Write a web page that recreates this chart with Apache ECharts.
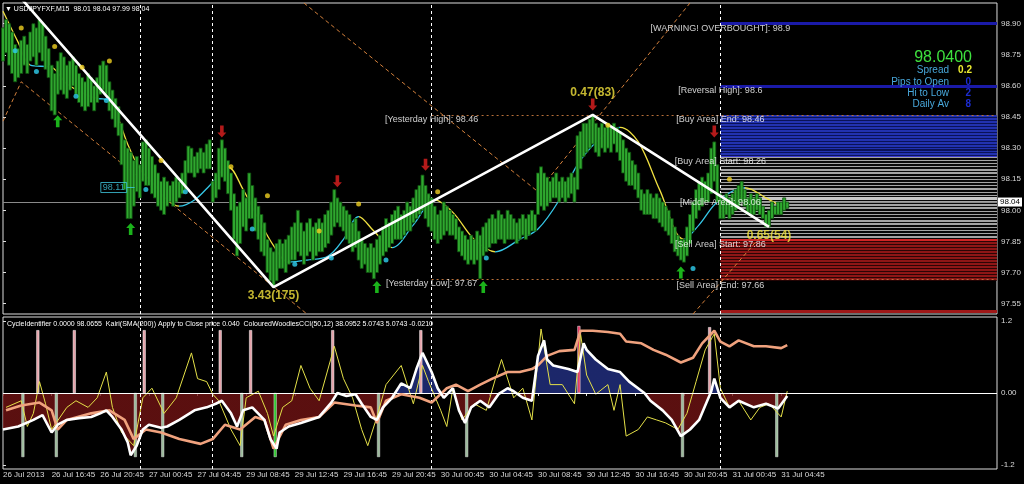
<!DOCTYPE html>
<html><head><meta charset="utf-8"><title>USDJPYFXF M15</title>
<script src="https://cdn.jsdelivr.net/npm/echarts@6.0.0/dist/echarts.min.js"></script>
<style>html,body{margin:0;padding:0;background:#000;overflow:hidden}#c{width:1024px;height:484px}</style>
</head><body><div id="c"></div>
<script>
// ---------------- DATA ----------------
const timeTickIdx = [0,16,32,48,64,80,96,112,128,144,160,176,192,208,224,240,256];
const timeLabels = ['26 Jul 2013','26 Jul 16:45','26 Jul 20:45','27 Jul 00:45','27 Jul 04:45','29 Jul 08:45','29 Jul 12:45','29 Jul 16:45','29 Jul 20:45','30 Jul 00:45','30 Jul 04:45','30 Jul 08:45','30 Jul 12:45','30 Jul 16:45','30 Jul 20:45','31 Jul 00:45','31 Jul 04:45'];
const priceTicks = [97.55,97.70,97.85,98.00,98.15,98.30,98.45,98.60,98.75,98.90];
const oscTicks = [-1.2,0,1.2];
const slotCount = 327;

const barHigh = [
98.88,98.92,98.90,98.86,98.80,98.78,98.82,98.84,98.80,98.86,98.90,98.88,98.92,98.90,98.84,98.78,
98.70,98.66,98.72,98.76,98.74,98.70,98.72,98.74,98.70,98.66,98.64,98.62,98.66,98.64,98.60,98.64,
98.70,98.72,98.70,98.62,98.58,98.54,98.50,98.42,98.34,98.30,98.28,98.24,98.26,98.22,98.33,98.34,
98.30,98.26,98.22,98.18,98.14,98.16,98.14,98.12,98.14,98.16,98.14,98.18,98.24,98.31,98.30,98.26,
98.28,98.30,98.28,98.32,98.34,98.14,98.18,98.30,98.34,98.30,98.24,98.18,98.08,98.02,98.04,98.10,
98.06,98.18,98.12,98.06,98.02,97.98,97.94,97.86,97.82,97.80,97.84,97.86,97.84,97.86,97.88,97.92,
97.94,98.00,97.94,97.90,97.94,97.96,97.92,97.94,97.96,97.94,97.98,98.00,98.04,98.10,98.06,98.04,
98.02,98.00,97.98,97.94,97.96,97.90,97.86,97.84,97.82,97.84,97.82,97.86,97.88,97.92,97.96,97.94,
97.98,98.00,98.02,97.98,98.00,98.04,98.02,98.06,98.10,98.12,98.17,98.12,98.08,98.06,98.02,97.98,
98.00,98.04,98.02,98.00,97.98,97.96,97.92,97.90,97.88,97.86,97.88,97.86,97.90,97.88,97.92,97.94,
97.96,97.98,97.96,98.00,97.98,97.96,98.00,97.98,97.96,97.94,97.96,97.98,97.96,97.98,98.00,97.98,
98.18,98.21,98.18,98.16,98.14,98.16,98.18,98.14,98.16,98.14,98.16,98.18,98.16,98.36,98.38,98.42,
98.42,98.44,98.46,98.42,98.40,98.42,98.40,98.42,98.40,98.42,98.40,98.38,98.34,98.30,98.28,98.24,
98.22,98.18,98.10,98.08,98.10,98.08,98.06,98.08,98.06,98.04,98.02,98.00,97.96,97.92,97.88,97.86,
97.86,97.92,97.98,98.04,98.10,98.14,98.16,98.14,98.18,98.30,98.33,98.22,98.08,98.06,98.08,98.06,
98.08,98.10,98.12,98.14,98.10,98.06,98.08,98.06,98.08,98.06,98.02,97.98,98.00,98.04,98.02,98.04,98.04,98.06,98.04];
const barLow = [
98.72,98.76,98.70,98.66,98.62,98.64,98.66,98.70,98.66,98.72,98.74,98.70,98.76,98.72,98.68,98.64,
98.48,98.46,98.56,98.58,98.56,98.54,98.58,98.60,98.56,98.52,98.50,98.48,98.50,98.52,98.48,98.52,
98.56,98.58,98.56,98.48,98.44,98.40,98.36,98.22,98.10,97.96,97.96,98.02,98.09,98.06,98.14,98.12,
98.12,98.08,98.06,98.02,98.00,97.98,98.02,98.04,98.02,98.04,98.06,98.08,98.10,98.18,98.18,98.16,
98.18,98.20,98.18,98.20,98.20,98.04,98.06,98.10,98.16,98.14,98.08,98.00,97.86,97.78,97.84,97.92,
97.90,97.96,97.96,97.90,97.86,97.80,97.78,97.70,97.66,97.63,97.66,97.72,97.72,97.70,97.74,97.76,
97.76,97.80,97.78,97.74,97.78,97.80,97.76,97.78,97.80,97.80,97.82,97.84,97.88,97.92,97.94,97.92,
97.90,97.86,97.84,97.80,97.82,97.76,97.72,97.74,97.70,97.70,97.67,97.70,97.74,97.78,97.80,97.82,
97.84,97.86,97.86,97.86,97.88,97.90,97.90,97.94,97.96,97.98,98.00,97.96,97.92,97.90,97.86,97.84,
97.86,97.88,97.90,97.88,97.88,97.86,97.80,97.78,97.76,97.74,97.76,97.74,97.76,97.67,97.78,97.80,
97.82,97.84,97.84,97.86,97.86,97.84,97.86,97.86,97.86,97.84,97.86,97.88,97.86,97.88,97.90,97.90,
97.98,98.02,98.00,98.02,98.04,98.06,98.06,98.04,98.06,98.04,98.06,98.08,98.04,98.10,98.20,98.26,
98.28,98.30,98.32,98.28,98.26,98.30,98.28,98.30,98.28,98.32,98.28,98.24,98.18,98.14,98.12,98.12,
98.10,98.06,98.00,97.98,97.98,97.98,97.96,97.96,97.94,97.92,97.90,97.88,97.84,97.80,97.78,97.76,
97.75,97.78,97.84,97.90,97.96,98.00,98.02,98.04,98.04,98.08,98.14,98.04,97.96,97.96,97.98,97.96,
97.98,98.00,98.02,98.04,98.02,97.98,97.98,97.98,98.00,97.98,97.96,97.92,97.92,97.96,97.98,97.98,97.98,98.00,98.01];
const lastPrice = 98.04;

const maLine = [[0,98.96],[5,98.81],[9,98.70],[16,98.69],[21,98.61],[27,98.56],[31,98.54],[35,98.53],[38,98.44],[41,98.32],[45,98.20],[50,98.12],[54,98.05],[58,98.02],[63,98.05],[68,98.12],[74,98.21],[79,98.10],[84,97.96],[89,97.83],[94,97.75],[100,97.76],[107,97.78],[112,97.86],[117,97.97],[122,97.90],[128,97.82],[135,97.93],[142,98.05],[148,97.99],[155,97.86],[162,97.80],[170,97.86],[176,97.91],[183,98.05],[189,98.22],[196,98.34],[203,98.40],[209,98.33],[216,98.10],[224,97.86],[229,97.93],[235,98.04],[244,98.11],[251,98.06],[257,98.01]];
const maRisingRanges = [[9,16],[31,35],[58,74],[94,117],[128,142],[162,203],[224,244]];

const zigzag = [[-10,99.29],[89,97.63],[194,98.46],[252,97.92]];
const zigzagLabels = ['','3.43(175)','0.47(83)','0.65(54)'];

const dotsYellow = [[6,98.88],[17,98.79],[26,98.69],[35,98.72],[52,98.24],[75,98.21],[87,98.07],[104,97.90],[117,98.03],[143,98.09],[199,98.41],[239,98.15]];
const dotsCyan = [[4,98.77],[11,98.67],[24,98.55],[34,98.53],[47,98.10],[60,98.09],[82,97.91],[96,97.74],[108,97.77],[126,97.76],[159,97.77],[227,97.72]];
const arrowsUp = [[18,98.43],[42,97.91],[123,97.63],[158,97.63],[223,97.70]];
const arrowsDown = [[72,98.38],[110,98.14],[139,98.22],[194,98.51],[234,98.38]];

const channelA = [[0,98.43],[6,98.62],[100,97.50]];
const channelB = [[99,99.00],[176,98.09],[226,99.00]];
const channelC = [[227,97.50],[249,97.87]];

const daySeparators = [45,69,141,236];
const zoneStart = 236;
const levelNames = ['[WARNING! OVERBOUGHT]: 98.9','[Reversal High]: 98.6','[Buy Area] End: 98.46','[Buy Area] Start: 98.26','[Middle Area]: 98.06','[Sell Area] Start: 97.86','[Sell Area] End: 97.66'];
const levelValues = [98.9,98.6,98.46,98.26,98.06,97.86,97.66];
const extremeLevels = [98.9,98.6];
const lowExtremeLevel = 97.515;
const buyZone = [98.26,98.46];
const midZone = [97.86,98.26];
const sellZone = [97.66,97.86];
const middleLevel = 98.06;
const yesterdayStart = 141;
const yesterdayNames = ['[Yesterday High]: 98.46','[Yesterday Low]: 97.67'];
const yesterdayValues = [98.46,97.67];
const priceMarker = [42,98.11];

const oscWhite = [[0,-0.61],[5,-0.56],[10,-0.45],[13,-0.37],[16,-0.66],[18,-0.53],[21,-0.45],[25,-0.42],[29,-0.40],[32,-0.34],[34,-0.29],[36,-0.40],[39,-0.61],[41,-0.82],[42,-1.04],[44,-0.88],[46,-0.61],[48,-0.53],[52,-0.58],[54,-0.56],[58,-0.45],[63,-0.29],[67,-0.24],[70,-0.18],[72,-0.13],[75,-0.34],[77,-0.56],[79,-0.29],[82,-0.24],[86,-0.45],[88,-0.77],[90,-0.93],[91,-0.66],[94,-0.56],[98,-0.50],[101,-0.45],[104,-0.40],[108,-0.16],[110,0.0],[113,-0.05],[116,-0.02],[118,-0.18],[121,-0.40],[123,-0.45],[125,-0.24],[128,-0.08],[131,0.16],[134,0.08],[136,0.40],[138,0.67],[141,0.35],[143,0.08],[145,-0.08],[148,0.08],[150,-0.29],[152,-0.50],[154,-0.24],[157,-0.13],[160,-0.24],[163,-0.02],[166,0.08],[168,0.03],[171,-0.08],[174,-0.13],[176,0.62],[178,0.88],[179,0.56],[181,0.46],[186,0.40],[189,0.35],[191,0.83],[192,0.72],[195,0.56],[199,0.40],[203,0.35],[206,0.19],[211,0.0],[213,-0.13],[217,-0.29],[220,-0.45],[223,-0.72],[226,-0.61],[229,-0.45],[233,0.03],[234,0.24],[236,-0.08],[239,-0.24],[242,-0.13],[247,-0.24],[251,-0.18],[255,-0.26],[258,-0.05]];
const oscSalmon = [[1,-0.29],[6,-0.21],[12,-0.16],[16,-0.29],[18,-0.61],[21,-0.45],[29,-0.34],[35,-0.29],[40,-0.45],[43,-0.77],[47,-0.61],[52,-0.66],[58,-0.77],[65,-0.85],[69,-0.77],[73,-0.53],[78,-0.61],[83,-0.40],[86,-0.45],[89,-0.93],[93,-0.53],[98,-0.45],[104,-0.40],[109,-0.16],[116,-0.21],[121,-0.24],[123,-0.50],[126,-0.13],[131,-0.02],[137,-0.08],[141,-0.16],[146,0.08],[149,0.14],[153,0.03],[157,0.14],[161,0.24],[166,0.35],[170,0.35],[174,0.40],[176,0.46],[179,0.62],[183,0.70],[188,0.72],[190,1.04],[194,1.04],[199,1.02],[203,0.99],[205,0.86],[210,0.83],[214,0.72],[218,0.64],[223,0.51],[227,0.59],[230,0.83],[234,1.04],[236,0.86],[239,0.78],[242,0.88],[247,0.78],[251,0.78],[256,0.75],[258,0.80]];
const oscYellow = [[1,-0.24],[6,-0.13],[8,-0.56],[10,-0.34],[12,0.19],[14,-0.18],[16,-0.61],[21,-0.24],[24,-0.13],[28,-0.24],[31,-0.08],[34,0.35],[36,-0.24],[39,-0.66],[43,-0.88],[46,-0.08],[49,0.08],[53,-0.34],[57,-0.08],[62,0.67],[64,0.24],[67,0.19],[69,-0.02],[71,-0.13],[75,-0.61],[78,-0.88],[80,-0.08],[84,0.03],[87,-0.34],[89,-0.72],[92,-0.24],[95,-0.13],[98,0.46],[101,0.08],[104,-0.13],[109,0.78],[112,0.24],[115,-0.08],[118,-0.61],[120,-0.88],[123,-0.40],[126,0.14],[131,0.46],[135,-0.18],[138,0.46],[140,0.19],[144,-0.29],[146,-0.56],[148,0.08],[151,-0.45],[155,-0.18],[159,-0.29],[162,0.24],[164,0.56],[168,-0.08],[171,0.08],[174,-0.45],[177,1.07],[180,0.14],[184,0.14],[188,-0.18],[190,0.99],[192,0.30],[195,-0.02],[199,0.14],[201,-0.29],[203,0.14],[205,-0.72],[209,-0.61],[212,-0.40],[215,-0.45],[218,-0.50],[222,-0.61],[225,-0.34],[228,0.19],[231,0.72],[234,0.99],[236,0.08],[239,-0.24],[242,-0.13],[246,-0.45],[249,-0.24],[252,-0.18],[256,-0.40],[258,0.03]];
const spikeUp = [[12,1.05],[24,1.05],[47,1.05],[72,1.05],[82,1.05],[109,1.05],[138,1.05],[190,1.12],[233,1.10]];
const spikeDown = [[6,-1.07],[17,-1.07],[43,-1.07],[52,-1.07],[78,-1.07],[89,-1.07],[123,-1.07],[152,-1.07],[223,-1.07],[254,-1.07]];
const spikeUpStrongIdx = 190;
const spikeDownGreenIdx = 89;

// ---------------- STYLE HELPERS ----------------
const FONT = 'Liberation Sans, Arial, sans-serif';
const YEL = '#f0e040', CYAN = '#35c8e8';
function stripes(c1, c2, n, frac) {
  const stops = [];
  for (let k = 0; k < n; k++) {
    const a = k / n, b = (k + frac) / n, c = (k + 1) / n;
    stops.push({offset:a,color:c1},{offset:b,color:c1},{offset:b,color:c2},{offset:c,color:c2});
  }
  return new echarts.graphic.LinearGradient(0,0,0,1,stops);
}

const chart = echarts.init(document.getElementById('c'), null, {renderer:'canvas', width:1024, height:484});

const series = [];
// zones & levels helper (main pane)
series.push({
  type:'line', xAxisIndex:0, yAxisIndex:0, data:[], z:1, silent:true,
  markArea:{silent:true, z:1, data:[
    [{coord:[zoneStart,buyZone[1]], itemStyle:{color:stripes('#2232b0','#0a1258',14,0.65)}},{coord:[slotCount,buyZone[0]]}],
    [{coord:[zoneStart,midZone[1]], itemStyle:{color:stripes('#a4a4a4','#080808',26,0.42)}},{coord:[slotCount,midZone[0]]}],
    [{coord:[zoneStart,sellZone[1]], itemStyle:{color:stripes('#8e1616','#2c0505',14,0.6)}},{coord:[slotCount,sellZone[0]]}]
  ]},
  markLine:{silent:true, z:2, symbol:['none','none'], animation:false, label:{show:false},
    data:[].concat(
      extremeLevels.map(v=>[{coord:[zoneStart,v], lineStyle:{color:'#1a1aa8',width:3,type:'solid'}},{coord:[slotCount,v]}]),
      [[{coord:[zoneStart,lowExtremeLevel], lineStyle:{color:'#a01818',width:3,type:'solid'}},{coord:[slotCount,lowExtremeLevel]}]],
      [[{coord:[zoneStart,buyZone[0]], lineStyle:{color:'#3a3ad0',width:1,type:'solid'}},{coord:[slotCount,buyZone[0]]}]],
      [[{coord:[zoneStart,sellZone[1]], lineStyle:{color:'#d02424',width:2,type:'solid'}},{coord:[slotCount,sellZone[1]]}]],
      [[{coord:[zoneStart,middleLevel], lineStyle:{color:'#c8c8c8',width:3,type:'solid'}},{coord:[slotCount,middleLevel]}]],
      yesterdayValues.map(v=>[{coord:[yesterdayStart,v], lineStyle:{color:'#b8703a',width:1,type:[2,3]}},{coord:[slotCount,v]}]),
      daySeparators.map(d=>({xAxis:d, lineStyle:{color:'#ffffff',width:1,type:[3,3]}})),
      [{yAxis:lastPrice, lineStyle:{color:'#8a8a8a',width:1,type:'solid'},
        label:{show:true, position:'end', formatter:lastPrice.toFixed(2), color:'#000', backgroundColor:'#ffffff', padding:[1,2,0,2], fontSize:8, fontFamily:FONT, distance:1}}]
    )}
});
// channel dashed lines
[channelA, channelB, channelC].forEach(ch => series.push({
  type:'line', xAxisIndex:0, yAxisIndex:0, data:ch, symbol:'none', silent:true, z:2,
  lineStyle:{color:'#d4813c', width:1, type:[4,3]}
}));
// MA line (yellow falling / cyan rising)
const maSeriesIndex = series.length;
series.push({type:'line', xAxisIndex:0, yAxisIndex:0, data:maLine, symbol:'none', smooth:0.35, z:3, silent:true, lineStyle:{width:1.3}});
// bars
series.push({
  type:'custom', xAxisIndex:0, yAxisIndex:0, z:4, silent:true,
  data: barLow.map((l,i)=>[i,l,barHigh[i]]),
  renderItem(params, api) {
    const x = api.value(0);
    const top = api.coord([x, api.value(2)]);
    const bot = api.coord([x, api.value(1)]);
    return {type:'rect', shape:{x:top[0]-1.5, y:top[1], width:3, height:Math.max(1.5, bot[1]-top[1])},
      style:{fill:'#2fa82f', stroke:'#0f4f0f', lineWidth:0.8}};
  }
});
// zigzag
series.push({type:'line', xAxisIndex:0, yAxisIndex:0, data:zigzag, symbol:'none', z:5, silent:true, lineStyle:{color:'#ffffff', width:2.6}});
// dots
series.push({type:'scatter', xAxisIndex:0, yAxisIndex:0, data:dotsYellow, symbolSize:5, z:6, silent:true, itemStyle:{color:'#f0d020'}});
series.push({type:'scatter', xAxisIndex:0, yAxisIndex:0, data:dotsCyan, symbolSize:5, z:6, silent:true, itemStyle:{color:'#30d0f0'}});
// arrows
series.push({type:'scatter', xAxisIndex:0, yAxisIndex:0, data:arrowsUp, z:6, silent:true, symbol:'path://M5,0L10,5L7,5L7,12L3,12L3,5L0,5Z', symbolSize:[9,12], itemStyle:{color:'#22e022'}});
series.push({type:'scatter', xAxisIndex:0, yAxisIndex:0, data:arrowsDown, z:6, silent:true, symbol:'path://M3,0L7,0L7,7L10,7L5,12L0,7L3,7Z', symbolSize:[9,12], itemStyle:{color:'#e02020'}});
// zigzag texts
series.push({type:'scatter', xAxisIndex:0, yAxisIndex:0, zlevel:1, z:7, silent:true, symbolSize:1, itemStyle:{color:'transparent'},
  data: zigzag.map((p,i)=>({value:p, label:{show: !!zigzagLabels[i], position: p[1] > 98.2 ? 'top' : 'bottom', distance: p[1] > 98.2 ? 16 : 2}})),
  label:{formatter:(p)=>zigzagLabels[p.dataIndex], color:'#f4e43c', fontSize:12, fontWeight:'bold', fontFamily:FONT}
});
// level texts
series.push({type:'scatter', xAxisIndex:0, yAxisIndex:0, zlevel:1, z:7, silent:true, symbolSize:1, itemStyle:{color:'transparent'},
  data: levelValues.map(v=>[zoneStart, v]).concat(yesterdayValues.map(v=>[yesterdayStart, v])),
  label:{show:true, position:'bottom', distance:0, color:'#ffffff', fontSize:9, fontFamily:FONT,
    formatter:(p)=> p.dataIndex < levelNames.length ? levelNames[p.dataIndex] : yesterdayNames[p.dataIndex - levelNames.length]}
});
// 98.11 marker
series.push({type:'scatter', xAxisIndex:0, yAxisIndex:0, zlevel:1, z:7, silent:true, data:[priceMarker], symbol:'rect', symbolSize:[8,1], itemStyle:{color:'#40c8e0'},
  label:{show:true, position:'left', distance:0, formatter:(p)=>p.value[1].toFixed(2), color:'#40c8e0', borderColor:'#40c8e0', borderWidth:1, padding:[1,2,0,2], fontSize:9, fontFamily:FONT}});

// ---- lower pane ----
const histSeriesIndex = series.length;
series.push({type:'line', xAxisIndex:1, yAxisIndex:1, data:oscWhite, symbol:'none', z:2, silent:true,
  lineStyle:{width:0}, areaStyle:{opacity:0.78},
  markLine:{silent:true, symbol:['none','none'], label:{show:false}, animation:false,
    data:[{yAxis:0, lineStyle:{color:'#ffffff', width:1, type:'solid'}}].concat(daySeparators.map(d=>({xAxis:d, lineStyle:{color:'#ffffff', width:1, type:[3,3]}})))}
});
series.push({type:'bar', xAxisIndex:1, yAxisIndex:1, data:spikeUp, barWidth:3, z:3, silent:true,
  itemStyle:{color:(p)=> p.data[0]===spikeUpStrongIdx ? '#e0305c' : '#e6a2aa', borderColor:'#ffffff', borderWidth:0.5}});
series.push({type:'bar', xAxisIndex:1, yAxisIndex:1, data:spikeDown, barWidth:3, z:3, silent:true,
  itemStyle:{color:(p)=> p.data[0]===spikeDownGreenIdx ? '#2ec82e' : '#9cbc9c', borderColor:'#e0e0e0', borderWidth:0.5}});
series.push({type:'line', xAxisIndex:1, yAxisIndex:1, data:oscYellow, symbol:'none', z:4, silent:true, lineStyle:{color:'#e4e048', width:1}});
series.push({type:'line', xAxisIndex:1, yAxisIndex:1, data:oscSalmon, symbol:'none', z:5, silent:true, lineStyle:{color:'#f0a27e', width:2.6}});
series.push({type:'line', xAxisIndex:1, yAxisIndex:1, data:oscWhite, symbol:'none', z:6, silent:true, lineStyle:{color:'#ffffff', width:2.6}});

// visual maps
const maPieces = [];
let prev = -1000;
maRisingRanges.forEach(([a,b]) => { maPieces.push({gte:prev, lt:a, color:YEL}); maPieces.push({gte:a, lt:b, color:CYAN}); prev = b; });
maPieces.push({gte:prev, lte:1000, color:YEL});

const tickLabelStyle = {color:'#d8d8d8', fontSize:8, fontFamily:FONT};

const option = {
  backgroundColor:'#000000',
  animation:false,
  grid:[
    {left:3, right:27, top:3, height:311, show:true, borderColor:'#dcdcdc', borderWidth:1, backgroundColor:'#000'},
    {left:3, right:27, top:317, height:152, show:true, borderColor:'#dcdcdc', borderWidth:1, backgroundColor:'#000'}
  ],
  xAxis:[
    {type:'value', gridIndex:0, min:0, max:slotCount, show:false},
    {type:'value', gridIndex:1, min:0, max:slotCount,
      axisLine:{show:false}, splitLine:{show:false},
      axisTick:{show:true, customValues:timeTickIdx, length:3, lineStyle:{color:'#e0e0e0'}},
      axisLabel:Object.assign({customValues:timeTickIdx, align:'left', margin:2,
        formatter:(v)=>{const k = timeTickIdx.indexOf(Math.round(v)); return k>=0 ? timeLabels[k] : '';}}, tickLabelStyle)}
  ],
  yAxis:[
    {type:'value', gridIndex:0, position:'right', min:97.5, max:99.0, splitLine:{show:false}, axisLine:{show:false},
      axisTick:{show:true, customValues:priceTicks, length:3, lineStyle:{color:'#e0e0e0'}},
      axisLabel:Object.assign({customValues:priceTicks, margin:4, formatter:(v)=>v.toFixed(2)}, tickLabelStyle)},
    {type:'value', gridIndex:1, position:'right', min:-1.27, max:1.27, splitLine:{show:false}, axisLine:{show:false},
      axisTick:{show:true, customValues:oscTicks, length:3, lineStyle:{color:'#e0e0e0'}},
      axisLabel:Object.assign({customValues:oscTicks, margin:4, formatter:(v)=> Math.abs(v)<1e-9 ? '0.00' : v.toFixed(1)}, tickLabelStyle)}
  ],
  visualMap:[
    {type:'piecewise', show:false, seriesIndex:maSeriesIndex, dimension:0, pieces:maPieces},
    {type:'piecewise', show:false, seriesIndex:histSeriesIndex, dimension:1, pieces:[{gte:-10, lt:0, color:'#741414'},{gte:0, lte:10, color:'#243288'}]}
  ],
  graphic:[
    {type:'text', x:5, y:9, z:100, style:{text:'▼ USDJPYFXF,M15  98.01 98.04 97.99 98.04', fill:'#ffffff', font:'7px '+FONT, textAlign:'left', textVerticalAlign:'middle', align:'left', verticalAlign:'middle'}},
    {type:'text', x:7, y:324, z:100, style:{text:'CycleIdentifier 0.0000 98.0655  Kairi(SMA(200)) Apply to Close price 0.040  ColouredWoodiesCCI(50,12) 38.0952 5.0743 5.0743 -0.0210', fill:'#ffffff', font:'7px '+FONT, textAlign:'left', textVerticalAlign:'middle', align:'left', verticalAlign:'middle'}},
    {type:'text', x:972, y:58, z:100, style:{text:'98.0400', fill:'#3ee03e', font:'16px '+FONT, textAlign:'right', textVerticalAlign:'middle', align:'right', verticalAlign:'middle'}},
    {type:'text', x:949, y:70, z:100, style:{text:'Spread', fill:'#48a8dc', font:'10px '+FONT, textAlign:'right', textVerticalAlign:'middle', align:'right', verticalAlign:'middle'}},
    {type:'text', x:972, y:70, z:100, style:{text:'0.2', fill:'#ecec30', font:'bold 10px '+FONT, textAlign:'right', textVerticalAlign:'middle', align:'right', verticalAlign:'middle'}},
    {type:'text', x:949, y:82, z:100, style:{text:'Pips to Open', fill:'#48a8dc', font:'10px '+FONT, textAlign:'right', textVerticalAlign:'middle', align:'right', verticalAlign:'middle'}},
    {type:'text', x:949, y:93, z:100, style:{text:'Hi to Low', fill:'#48a8dc', font:'10px '+FONT, textAlign:'right', textVerticalAlign:'middle', align:'right', verticalAlign:'middle'}},
    {type:'text', x:949, y:104, z:100, style:{text:'Daily Av', fill:'#48a8dc', font:'10px '+FONT, textAlign:'right', textVerticalAlign:'middle', align:'right', verticalAlign:'middle'}},
    {type:'text', x:971, y:82, z:100, style:{text:'0', fill:'#1c2cd0', font:'bold 10px '+FONT, textAlign:'right', textVerticalAlign:'middle', align:'right', verticalAlign:'middle'}},
    {type:'text', x:971, y:93, z:100, style:{text:'2', fill:'#1c2cd0', font:'bold 10px '+FONT, textAlign:'right', textVerticalAlign:'middle', align:'right', verticalAlign:'middle'}},
    {type:'text', x:971, y:104, z:100, style:{text:'8', fill:'#1c2cd0', font:'bold 10px '+FONT, textAlign:'right', textVerticalAlign:'middle', align:'right', verticalAlign:'middle'}}
  ],
  series: series
};
chart.setOption(option);
</script>
</body></html>
